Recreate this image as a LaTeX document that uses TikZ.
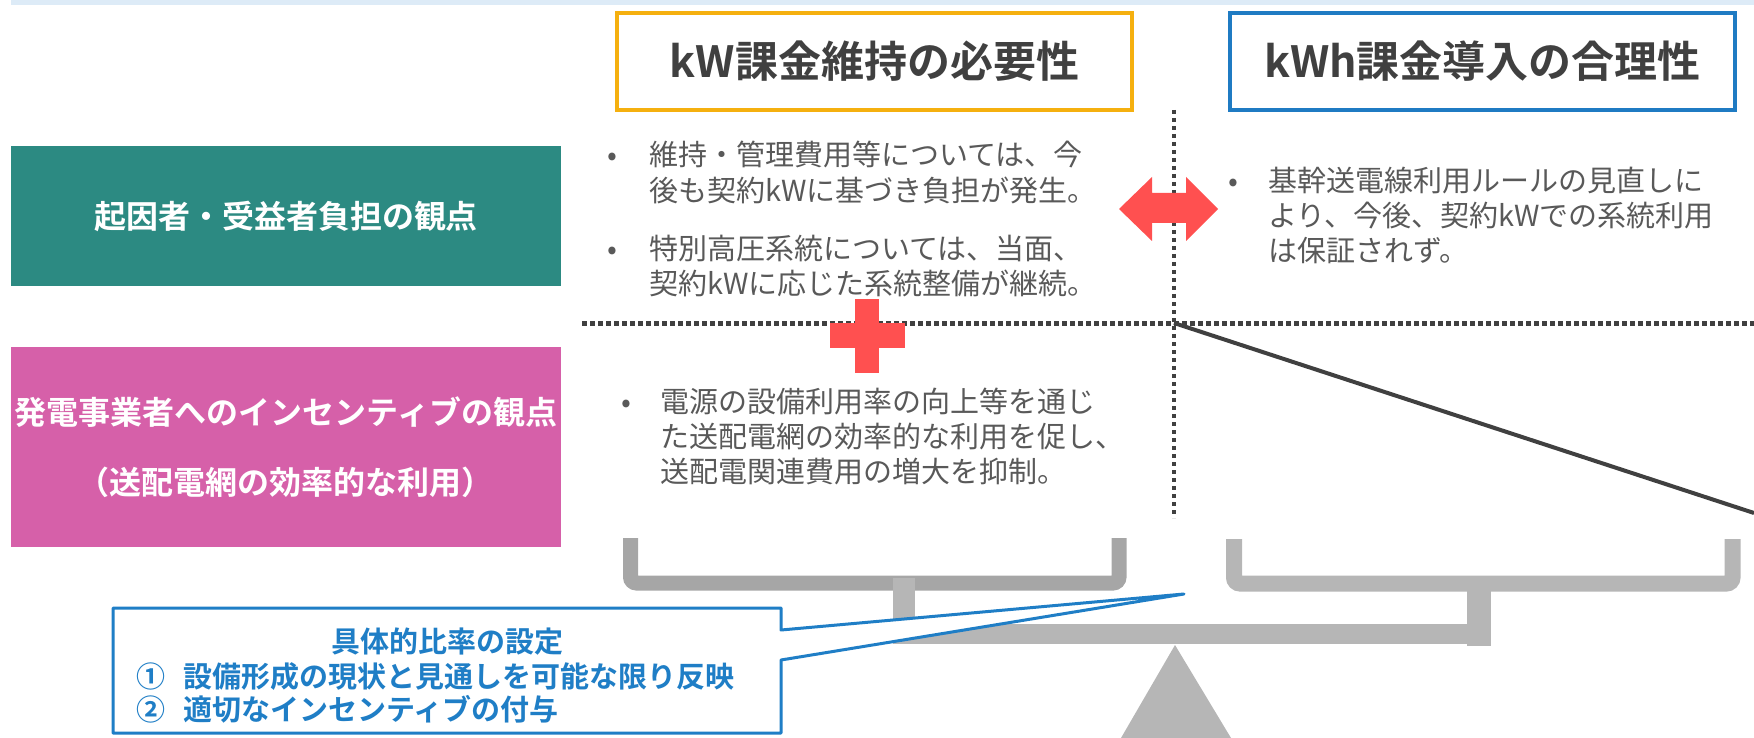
\documentclass[tikz,border=0pt]{standalone}
\usepackage{fontspec}
\setmainfont{Noto Sans CJK JP}[BoldFont={Noto Sans CJK JP Bold}]
\usepackage{xcolor}
\usetikzlibrary{positioning}

\definecolor{titlegray}{HTML}{404040}
\definecolor{bodygray}{HTML}{595959}
\definecolor{kwframe}{HTML}{F5B00F}
\definecolor{kwhframe}{HTML}{1F7BC3}
\definecolor{causebox}{HTML}{2C8A82}
\definecolor{incentbox}{HTML}{D660A9}
\definecolor{markred}{HTML}{FF5050}
\definecolor{pangray}{HTML}{A6A6A6}
\definecolor{scalegray}{HTML}{B6B6B6}
\definecolor{calloutblue}{HTML}{1F7EC6}
\definecolor{bandblue}{HTML}{DDEBF7}

\begin{document}
\begin{tikzpicture}[
    x=1pt, y=-1pt,
    every node/.style={inner sep=0pt},
    titlebox/.style={rectangle, draw, line width=4pt, minimum width=#1, minimum height=97pt, text=titlegray, font=\fontsize{43}{50}\selectfont\bfseries},
    viewbox/.style={rectangle, minimum width=550pt, align=center, text=white, font=\fontsize{32}{70}\selectfont\bfseries},
    bullets/.style={anchor=base west, text=bodygray, font=\fontsize{29}{35}\selectfont},
    calltext/.style={text=calloutblue, font=\fontsize{29}{34}\selectfont\bfseries},
    hdots/.style={draw=titlegray, line width=5pt, dash pattern=on 5pt off 3pt},
    vdots/.style={draw=titlegray, line width=3.5pt, dash pattern=on 4pt off 4pt}
]
\useasboundingbox (0,0) rectangle (1754,738);

\fill[bandblue] (11,0) rectangle (1754,5);

% column heads
\node[titlebox=515pt, draw=kwframe]  (kw)  at (874.5,61.5)  {kW課金維持の必要性};
\node[titlebox=505pt, draw=kwhframe] (kwh) at (1482.5,61.5) {kWh課金導入の合理性};

% row heads
\node[viewbox, fill=causebox, minimum height=140pt]  (cause)  at (286,216) {起因者・受益者負担の観点};
\node[viewbox, fill=incentbox, minimum height=200pt] (incent) at (286,447) {発電事業者へのインセンティブの観点\\（送配電網の効率的な利用）};

\node[bullets] (kw1) at (607,166) {\begin{tabular}[t]{@{}l@{}l@{}}\makebox[42pt][l]{•}&維持・管理費用等については、今\\&後も契約kWに基づき負担が発生。\end{tabular}};
\node[bullets] (kw2) at (607,259) {\begin{tabular}[t]{@{}l@{}l@{}}\makebox[42pt][l]{•}&特別高圧系統については、当面、\\&契約kWに応じた系統整備が継続。\end{tabular}};
\node[bullets] (kwh1) at (1228,192) {\begin{tabular}[t]{@{}l@{}l@{}}\makebox[40pt][l]{•}&基幹送電線利用ルールの見直しに\\&より、今後、契約kWでの系統利用\\&は保証されず。\end{tabular}};
\node[bullets] (inc1) at (621,412) {\begin{tabular}[t]{@{}l@{}l@{}}\makebox[39pt][l]{•}&電源の設備利用率の向上等を通じ\\&た送配電網の効率的な利用を促し、\\&送配電関連費用の増大を抑制。\end{tabular}};

% grid lines
\coordinate (cross) at (1174,323);
\draw[hdots] (582,323) -- (1754,323);
\draw[vdots] (1174,110) -- (1174,518);
\draw[line width=4pt, titlegray] (cross) -- (1754,513);

\fill[markred] (1119,209) -- (1152,177) -- (1152,193) -- (1186,193) -- (1186,177) -- (1218,209)
    -- (1186,241) -- (1186,223) -- (1152,223) -- (1152,241) -- cycle;
\fill[markred] (855,299) rectangle (879,373);
\fill[markred] (830,323) rectangle (905,348);

% balance
\draw[line width=15pt, pangray, rounded corners=6pt] (630.5,538) -- (630.5,583) -- (1119,583) -- (1119,538);
\draw[line width=16pt, scalegray, rounded corners=6pt] (1234,539) -- (1234,583.5) -- (1732.5,583.5) -- (1732.5,539);
\fill[scalegray] (893,578) rectangle (915,630);
\fill[scalegray] (893,624) rectangle (1467,644);
\fill[scalegray] (1467,591) rectangle (1491,646);
\fill[scalegray] (1175,645) -- (1231,738) -- (1121,738) -- cycle;

% callout
\draw[calloutblue, line width=3pt, fill=white, line join=round] (113,608) -- (781,608) -- (781,630)
    -- (1184,594) -- (781,660) -- (781,733) -- (113,733) -- cycle;
\node[calltext] (ratio) at (447,642) {具体的比率の設定};
\node[calltext, anchor=base west] (item1) at (136,687) {①\hspace{18pt}設備形成の現状と見通しを可能な限り反映};
\node[calltext, anchor=base west] (item2) at (136,720) {②\hspace{18pt}適切なインセンティブの付与};
\end{tikzpicture}
\end{document}
